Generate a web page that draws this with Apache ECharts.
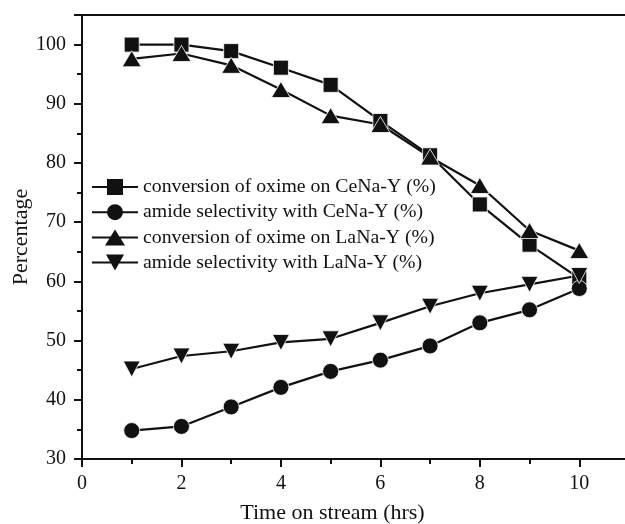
<!DOCTYPE html>
<html>
<head>
<meta charset="utf-8">
<script src="https://cdn.jsdelivr.net/npm/echarts@6/dist/echarts.min.js"></script>
<style>html,body{margin:0;padding:0;background:#fff}#c{width:625px;height:524px}</style>
</head>
<body>
<div id="c"></div>
<script>
const hours = [1, 2, 3, 4, 5, 6, 7, 8, 9, 10];
const convCe = [100, 100, 98.9, 96.1, 93.2, 87.1, 81.3, 73.0, 66.2, 60.5];
const amideCe = [34.8, 35.5, 38.8, 42.1, 44.8, 46.7, 49.1, 53.0, 55.2, 58.8];
const convLa = [97.6, 98.5, 96.5, 92.4, 88.0, 86.5, 81.0, 76.2, 68.6, 65.2];
const amideLa = [45.2, 47.4, 48.2, 49.7, 50.3, 53.0, 55.8, 58.0, 59.5, 61.0];
const names = [
  'conversion of oxime on CeNa-Y (%)',
  'amide selectivity with CeNa-Y (%)',
  'conversion of oxime on LaNa-Y (%)',
  'amide selectivity with LaNa-Y (%)'
];
const FONT = '"Liberation Serif", "DejaVu Serif", serif';

const LINE = 'M0,7 H46 V9 H0 Z ';
const icons = [
  'path://' + LINE + 'M15,0 H31 V16 H15 Z',
  'path://' + LINE + 'M15,8 A8,8 0 1,1 31,8 A8,8 0 1,1 15,8 Z',
  'path://' + LINE + 'M23,0 L33,16 L13,16 Z',
  'path://' + LINE + 'M14,0 H32 L23,16 Z'
];

function pairs(ys) { return hours.map((h, i) => [h, ys[i]]); }
function mk(name, ys, symbol, size) {
  return {
    name: name, type: 'line', data: pairs(ys),
    symbol: symbol, symbolSize: size,
    showSymbol: true, color: '#111',
    lineStyle: { color: '#111', width: 2.2 },
    itemStyle: { color: '#111', borderColor: '#fff', borderWidth: 0.8 },
    emphasis: { disabled: true },
    animation: false, z: 3
  };
}

const chart = echarts.init(document.getElementById('c'), null, { renderer: 'canvas' });
chart.setOption({
  animation: false,
  backgroundColor: '#fff',
  grid: { left: 82, right: -4, top: 15, bottom: 65, show: true, borderColor: '#111', borderWidth: 2,
    containLabel: false, outerBoundsMode: 'none' },
  legend: {
    left: 92, top: 177, orient: 'vertical', padding: 0,
    itemWidth: 46, itemHeight: 16, itemGap: 5.2,
    symbolRotate: 0,
    itemStyle: { borderWidth: 0, color: '#111' },
    textStyle: { fontFamily: FONT, fontSize: 19.8, color: '#111' },
    data: names.map((n, i) => ({ name: n, icon: icons[i] }))
  },
  xAxis: {
    type: 'value', min: 0, max: 11, interval: 2,
    name: 'Time on stream (hrs)', nameLocation: 'middle', nameGap: 43, nameMoveOverlap: false,
    nameTextStyle: { fontFamily: FONT, fontSize: 22, color: '#111', padding: [0, 46, 0, 0] },
    axisLine: { show: true, onZero: false, lineStyle: { color: '#111', width: 2 } },
    axisTick: { show: true, inside: false, length: 8, lineStyle: { color: '#111', width: 2 } },
    minorTick: { show: true, splitNumber: 2, length: 5, lineStyle: { color: '#111', width: 2 } },
    axisLabel: { fontFamily: FONT, fontSize: 20, color: '#111', margin: 15, showMaxLabel: false },
    splitLine: { show: false }
  },
  yAxis: {
    type: 'value', min: 30, max: 105, interval: 10,
    name: 'Percentage', nameLocation: 'middle', nameGap: 50, nameMoveOverlap: false,
    nameTextStyle: { fontFamily: FONT, fontSize: 22, color: '#111' },
    axisLine: { show: true, onZero: false, lineStyle: { color: '#111', width: 2 } },
    axisTick: { show: true, inside: false, length: 8, lineStyle: { color: '#111', width: 2 } },
    minorTick: { show: true, splitNumber: 2, length: 5, lineStyle: { color: '#111', width: 2 } },
    axisLabel: { fontFamily: FONT, fontSize: 20, color: '#111', margin: 16, showMaxLabel: false,
      formatter: v => (v % 10 === 0 ? String(v) : '') },
    splitLine: { show: false }
  },
  series: [
    mk(names[0], convCe, 'rect', 15),
    mk(names[1], amideCe, 'circle', 16),
    mk(names[2], convLa, 'triangle', [19, 16]),
    mk(names[3], amideLa, 'path://M0,0 L10,0 L5,10 Z', [17, 16])
  ]
});
</script>
</body>
</html>
